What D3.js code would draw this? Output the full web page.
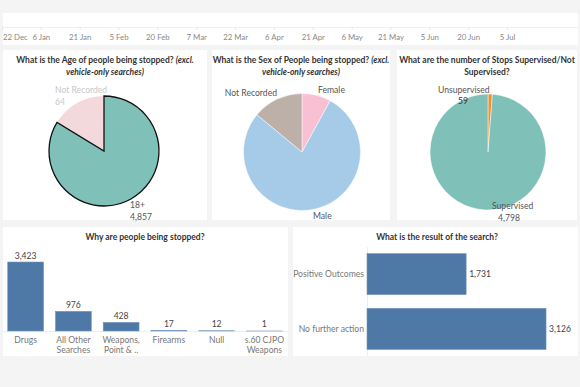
<!DOCTYPE html>
<html>
<head>
<meta charset="utf-8">
<script src="https://cdn.jsdelivr.net/npm/d3@7"></script>
<style>
  body { margin: 0; background: #f4f4f4; font-family: Lato, "Open Sans", sans-serif; }
  svg { display: block; }
  .title { font-weight: bold; font-size: 8.5px; fill: #333; }
  .pie-label { font-size: 8.6px; fill: #555; }
  .cat-label { font-size: 8.6px; fill: #777; }
  .val-label { font-size: 8.6px; fill: #444; }
</style>
</head>
<body>
<script>
// timeline axis
const tickDates = ["2018-12-22", "2019-01-06", "2019-01-21", "2019-02-05", "2019-02-20", "2019-03-07",
  "2019-03-22", "2019-04-06", "2019-04-21", "2019-05-06", "2019-05-21", "2019-06-05", "2019-06-20", "2019-07-05"];

// age pie (slice share, counts from labels)
const ageCats = ["18+", "Not Recorded"];
const ageCounts = [4857, 64];
const ageShare = [83.7, 16.3];

// sex pie
const sexCats = ["Female", "Male", "Not Recorded"];
const sexShare = [8, 78, 14];

// supervised pie
const supCats = ["Unsupervised", "Supervised"];
const supCounts = [59, 4798];

// reasons
const reasonCats = ["Drugs", "All Other Searches", "Weapons, Point & ..", "Firearms", "Null", "s.60 CJPO Weapons"];
const reasonLines = [["Drugs"], ["All Other", "Searches"], ["Weapons,", "Point & .."], ["Firearms"], ["Null"], ["s.60 CJPO", "Weapons"]];
const reasonCounts = [3423, 976, 428, 17, 12, 1];

// outcomes
const outcomeCats = ["Positive Outcomes", "No further action"];
const outcomeCounts = [1731, 3126];

const width = 580, height = 387;
const fmt = d3.format(",");
const parse = d3.timeParse("%Y-%m-%d");

const svg = d3.select("body").append("svg")
  .attr("width", width)
  .attr("height", height);

// panels
const panels = [
  [3, 13, 575, 32],
  [3, 50, 204, 170],
  [212, 50, 178, 170],
  [397, 50, 180, 170],
  [3, 227, 285, 129],
  [293, 227, 285, 129]
];
svg.selectAll("rect.panel")
  .data(panels)
  .enter()
  .append("rect")
  .attr("class", "panel")
  .attr("x", d => d[0])
  .attr("y", d => d[1])
  .attr("width", d => d[2])
  .attr("height", d => d[3])
  .attr("fill", "#fff");

// --- timeline ---
const dates = tickDates.map(parse);
const xTime = d3.scaleTime()
  .domain([dates[0], dates[dates.length - 1]])
  .range([2, 507]);

svg.append("line")
  .attr("x1", 3).attr("x2", 578)
  .attr("y1", 27.5).attr("y2", 27.5)
  .attr("stroke", "#f0f0f0");

const timeAxis = svg.append("g")
  .attr("transform", "translate(0,27.5)")
  .call(d3.axisBottom(xTime)
    .tickValues(dates)
    .tickSize(2)
    .tickFormat(d3.timeFormat("%-d %b")));
timeAxis.select(".domain").remove();
timeAxis.selectAll("line").attr("stroke", "#e2e2e2");
timeAxis.selectAll("text")
  .attr("fill", "#888")
  .attr("dy", "0.95em")
  .style("font-family", "Lato, sans-serif")
  .style("font-size", "7.8px");
timeAxis.select(".tick text").attr("text-anchor", "start").attr("x", -xTime(dates[0]) + 2.5);

// --- titles ---
function title(cx, y, parts) {
  const t = svg.append("text")
    .attr("class", "title")
    .attr("x", cx)
    .attr("y", y)
    .attr("text-anchor", "middle");
  parts.forEach(p => {
    t.append("tspan").text(p[0]).style("font-style", p[1] ? "italic" : "normal");
  });
}
title(105, 63, [["What is the Age of people being stopped? ", false], ["(excl.", true]]);
title(105, 75, [["vehicle-only searches)", true]]);
title(301, 63, [["What is the Sex of People being stopped? ", false], ["(excl.", true]]);
title(301, 75, [["vehicle-only searches)", true]]);
title(487, 63, [["What are the number of Stops Supervised/Not", false]]);
title(487, 75, [["Supervised?", false]]);
title(145, 240, [["Why are people being stopped?", false]]);
title(437, 240, [["What is the result of the search?", false]]);

// --- pies ---
function drawPie(cx, cy, r, values, colors, strokes) {
  const pie = d3.pie().sort(null).value(d => d)(values);
  const arc = d3.arc().innerRadius(0).outerRadius(r);
  const g = svg.append("g").attr("transform", `translate(${cx},${cy})`);
  g.selectAll("path")
    .data(pie)
    .enter()
    .append("path")
    .attr("d", arc)
    .attr("fill", (d, i) => colors[i])
    .attr("stroke", (d, i) => strokes ? strokes[i] : "#fff")
    .attr("stroke-width", (d, i) => strokes && strokes[i] !== "none" ? 1.3 : 0.5);
  // bring outlined slice to front
  g.selectAll("path").filter((d, i) => strokes && strokes[i] !== "none").raise();
  return g;
}

function label(x, y, lines, color, anchor) {
  const t = svg.append("text")
    .attr("class", "pie-label")
    .attr("x", x)
    .attr("y", y)
    .attr("text-anchor", anchor || "start")
    .style("fill", color || "#555");
  lines.forEach((l, i) => {
    t.append("tspan").attr("x", x).attr("dy", i ? 11.5 : 0).text(l);
  });
}

drawPie(104, 151, 55, ageShare, ["#7fc0b9", "#f3d9dc"], ["#111", "none"]);
label(55, 93, [ageCats[1], fmt(ageCounts[1])], "#c8c8c8");
label(130, 208, [ageCats[0], fmt(ageCounts[0])]);

drawPie(302, 152, 58.5, sexShare, ["#f9bfd2", "#a6cbe9", "#bcb0a9"]);
label(318, 93, [sexCats[0]]);
label(277, 96, [sexCats[2]], null, "end");
label(313, 219, [sexCats[1]]);

drawPie(488, 152, 58, supCounts, ["#f28e2b", "#7fc0b9"]);
label(438, 93, [supCats[0]]);
label(458, 104, [fmt(supCounts[0])], "#333");
label(492, 209, [supCats[1], fmt(supCounts[1])]);
svg.selectAll(".pie-label tspan").filter(function () { return this.textContent === "4,798"; }).attr("x", 498);

// --- reasons bar chart ---
const xBand = d3.scaleBand()
  .domain(reasonCats)
  .range([2, 288])
  .paddingInner(0.25)
  .paddingOuter(0.12);
const yReason = d3.scaleLinear()
  .domain([0, d3.max(reasonCounts)])
  .range([331, 262]);

svg.append("line")
  .attr("x1", 3).attr("x2", 288)
  .attr("y1", 331.5).attr("y2", 331.5)
  .attr("stroke", "#eee");

svg.selectAll("rect.reason")
  .data(reasonCats)
  .enter()
  .append("rect")
  .attr("class", "reason")
  .attr("x", d => xBand(d))
  .attr("y", (d, i) => yReason(reasonCounts[i]))
  .attr("width", xBand.bandwidth())
  .attr("height", (d, i) => yReason(0) - yReason(reasonCounts[i]))
  .attr("fill", "#4e79a7")
  .attr("stroke", "#7397bd")
  .attr("stroke-width", 0.6);

svg.selectAll("text.reason-val")
  .data(reasonCats)
  .enter()
  .append("text")
  .attr("class", "val-label")
  .attr("x", d => xBand(d) + xBand.bandwidth() / 2)
  .attr("y", (d, i) => yReason(reasonCounts[i]) - 3.5)
  .attr("text-anchor", "middle")
  .text((d, i) => fmt(reasonCounts[i]));

reasonCats.forEach((c, i) => {
  const t = svg.append("text")
    .attr("class", "cat-label")
    .attr("text-anchor", "middle")
    .attr("y", 342.5);
  reasonLines[i].forEach((l, j) => {
    t.append("tspan")
      .attr("x", xBand(c) + xBand.bandwidth() / 2)
      .attr("dy", j ? 10.5 : 0)
      .text(l);
  });
});

// --- outcome bar chart ---
const yBand = d3.scaleBand()
  .domain(outcomeCats)
  .range([247, 356])
  .paddingInner(0.25)
  .paddingOuter(0.12);
const xOut = d3.scaleLinear()
  .domain([0, 3300])
  .range([367, 556]);

svg.append("line")
  .attr("x1", 367.5).attr("x2", 367.5)
  .attr("y1", 247).attr("y2", 356)
  .attr("stroke", "#eee");

svg.selectAll("rect.outcome")
  .data(outcomeCats)
  .enter()
  .append("rect")
  .attr("class", "outcome")
  .attr("x", xOut(0))
  .attr("y", d => yBand(d))
  .attr("width", (d, i) => xOut(outcomeCounts[i]) - xOut(0))
  .attr("height", yBand.bandwidth())
  .attr("fill", "#4e79a7")
  .attr("stroke", "#7397bd")
  .attr("stroke-width", 0.6);

svg.selectAll("text.out-val")
  .data(outcomeCats)
  .enter()
  .append("text")
  .attr("class", "val-label")
  .attr("x", (d, i) => xOut(outcomeCounts[i]) + 3)
  .attr("y", d => yBand(d) + yBand.bandwidth() / 2)
  .attr("dy", "0.35em")
  .text((d, i) => fmt(outcomeCounts[i]));

svg.selectAll("text.out-cat")
  .data(outcomeCats)
  .enter()
  .append("text")
  .attr("class", "cat-label")
  .attr("x", 364)
  .attr("y", d => yBand(d) + yBand.bandwidth() / 2)
  .attr("dy", "0.35em")
  .attr("text-anchor", "end")
  .text(d => d);
</script>
</body>
</html>
